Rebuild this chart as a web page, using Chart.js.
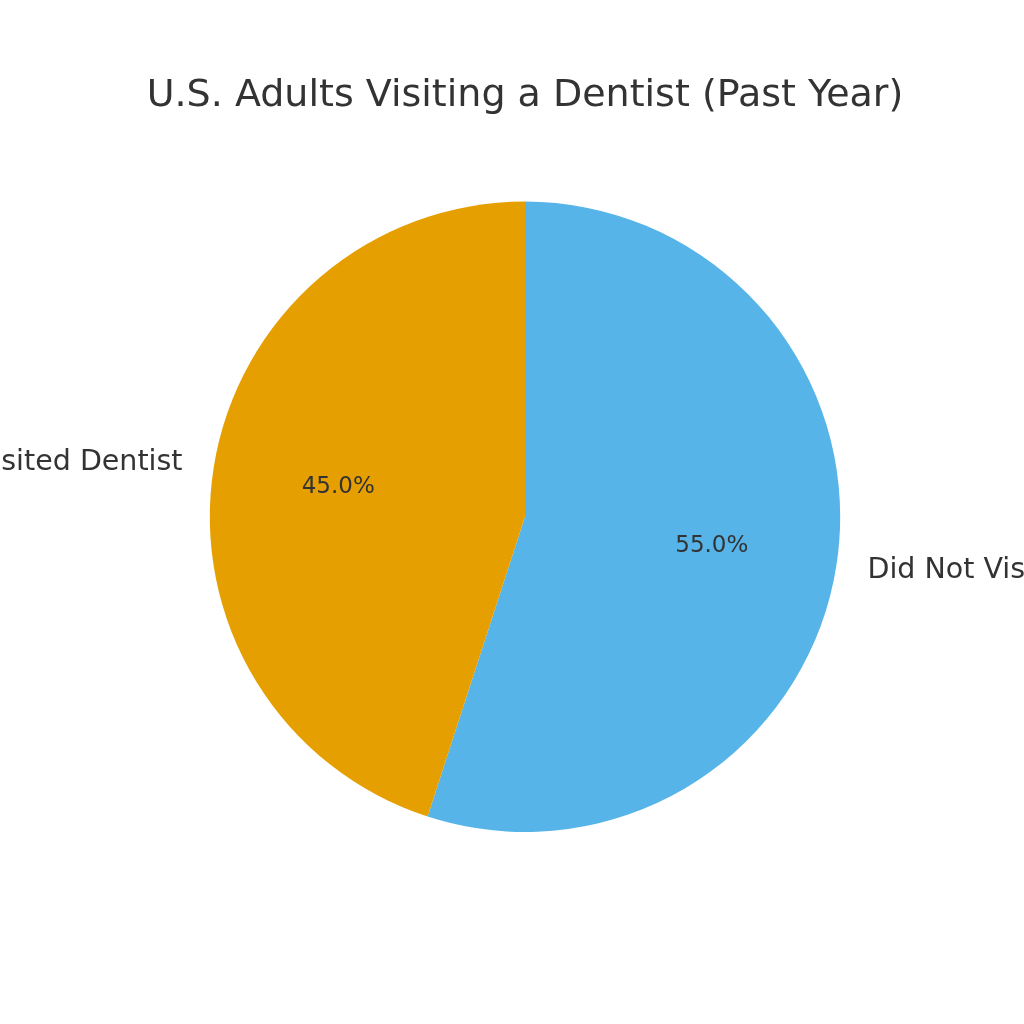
<!DOCTYPE html>
<html>
<head>
<meta charset="utf-8">
<script src="https://cdn.jsdelivr.net/npm/chart.js@4.4.0/dist/chart.umd.min.js"></script>
<style>
  html, body { margin: 0; padding: 0; background: #ffffff; }
  #wrap { width: 1024px; height: 1024px; }
</style>
</head>
<body>
<div id="wrap"><canvas id="chart" width="1024" height="1024"></canvas></div>
<script>
// data, drawn clockwise from the top so the order is reversed from the legend
const categories = ["Did Not Visit", "Visited Dentist"];
const shares = [55.0, 45.0];
const sliceColors = ["#56B4E9", "#E69F00"];

const textColor = "#333333";
const fontFamily = "'DejaVu Sans', sans-serif";

// draws category names outside the pie and percentages inside it
const sliceLabels = {
	id: "sliceLabels",
	afterDatasetsDraw(chart)
	{
		const ctx = chart.ctx;
		const meta = chart.getDatasetMeta(0);
		ctx.save();
		ctx.fillStyle = textColor;
		ctx.textBaseline = "middle";
		meta.data.forEach((arc, i) =>
		{
			const mid = (arc.startAngle + arc.endAngle) / 2;
			const r = arc.outerRadius;
			const cx = arc.x, cy = arc.y;

			// percentage at 0.6 r
			ctx.font = "23px " + fontFamily;
			ctx.textAlign = "center";
			ctx.fillText(shares[i].toFixed(1) + "%", cx + Math.cos(mid) * r * 0.6, cy + Math.sin(mid) * r * 0.6);

			// category at 1.1 r
			const lx = cx + Math.cos(mid) * r * 1.1;
			const ly = cy + Math.sin(mid) * r * 1.1;
			ctx.font = "28.5px " + fontFamily;
			ctx.textAlign = Math.cos(mid) >= 0 ? "left" : "right";
			ctx.fillText(categories[i], lx, ly);
		});
		ctx.restore();
	}
};

new Chart(document.getElementById("chart"),
{
	type: "pie",
	data:
	{
		labels: categories,
		datasets: [{
			data: shares,
			backgroundColor: sliceColors,
			borderWidth: 0,
			hoverOffset: 0
		}]
	},
	options:
	{
		responsive: false,
		animation: false,
		rotation: 0,
		// chart area 26..1024 x 202..832 -> pie centre (525, 517), radius 315
		layout: { padding: { left: 26, right: 0, top: 0, bottom: 192 } },
		plugins:
		{
			legend: { display: false },
			tooltip: { enabled: false },
			title:
			{
				display: true,
				text: "U.S. Adults Visiting a Dentist (Past Year)",
				color: textColor,
				font: { family: fontFamily, size: 38, weight: "normal", lineHeight: 1.2 },
				padding: { top: 73, bottom: 83 }
			}
		}
	},
	plugins: [sliceLabels]
});
</script>
</body>
</html>
